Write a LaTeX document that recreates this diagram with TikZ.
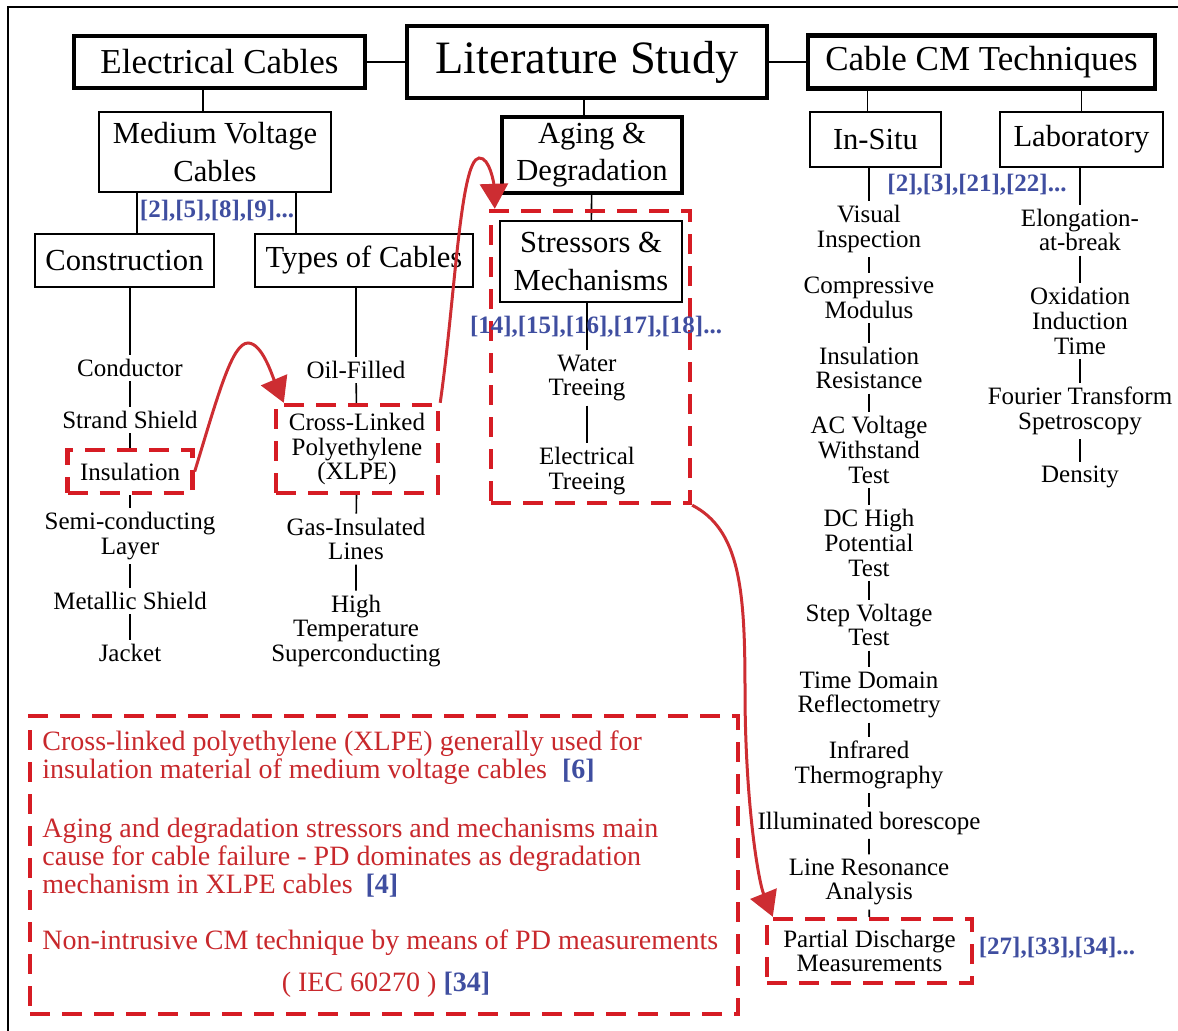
\documentclass[tikz,border=0pt]{standalone}
\usepackage{fontspec}
\setmainfont{Liberation Serif}
\usepackage{xcolor}
\definecolor{lsCite} {RGB}{ 63,  78, 160}
\definecolor{lsDash} {RGB}{214,  28,  36}
\definecolor{lsNote} {RGB}{200,  40,  44}
\definecolor{lsArrow}{RGB}{205,  45,  50}
\usepackage{tikz}
\usetikzlibrary{
  arrows.meta,
  positioning,
  calc,
}

\begin{document}
\begin{tikzpicture}[
  x=0.5pt, y=-0.5pt,
  hdbox/.style={draw, line width=2.4pt, inner sep=0pt, font=\fontsize{17.5}{21}\selectfont},
  subbox/.style={draw, line width=1pt, inner sep=0pt, align=center, font=\fontsize{15.3}{18.7}\selectfont},
  lsitem/.style={align=center, inner sep=2pt, font=\fontsize{12.5}{12.3}\selectfont},
  cref/.style={inner sep=1pt, text=lsCite, font=\bfseries\fontsize{12.5}{14}\selectfont},
  reddash/.style={draw=lsDash, line width=2.2pt, dash pattern=on 10pt off 6pt, inner sep=0pt},
  joint/.style={line width=0.8pt},
  redarrow/.style={draw=lsArrow, line width=1.5pt, -{Triangle[length=12.5pt, width=14pt]}},
  notetext/.style={anchor=west, align=left, inner sep=0pt, text=lsNote, font=\fontsize{14}{14}\selectfont},
]
  \useasboundingbox (0,0) rectangle (1178,1030);
  % Frame
  \draw[line width=1.2pt] (8,1040) -- (8,7) -- (1190,7);

  % Top row
  \node[hdbox, minimum width=145.5pt, minimum height=26pt] (ec) at (219.5,62) {Electrical Cables};
  \node[hdbox, minimum width=180pt, minimum height=36pt, font=\fontsize{23.2}{28}\selectfont] (ls) at (587,62) {Literature Study};
  \node[hdbox, minimum width=173.5pt, minimum height=26.5pt] (cct) at (981.5,62) {Cable CM Techniques};
  \draw[joint] (ec) -- (ls);
  \draw[joint] (ls) -- (cct);

  % Second row
  \node[subbox, minimum width=116pt, minimum height=40pt] (mvc) at (215,152) {Medium Voltage\\Cables};
  \node[subbox, minimum width=89.5pt, minimum height=26.5pt] (cons) at (124.5,260.5) {Construction};
  \node[subbox, minimum width=109pt, minimum height=26.5pt] (types) at (364,260.5) {Types of Cables};
  \node[subbox, line width=2.2pt, minimum width=90pt, minimum height=38pt] (aging) at (592,155) {Aging \&\\Degradation};
  \node[subbox, minimum width=91pt, minimum height=40.5pt] (stress) at (591,261.5) {Stressors \&\\Mechanisms};
  \node[subbox, minimum width=65.5pt, minimum height=27.5pt] (insitu) at (875.5,139.5) {In-Situ};
  \node[subbox, minimum width=81.5pt, minimum height=27.5pt] (lab) at (1081.5,139.5) {Laboratory};

  \draw[joint] ([xshift=-6pt]mvc.north) -- ([xshift=-6pt]mvc.north |- ec.south);
  \draw[joint] ([xshift=6.25pt]cons.north) -- ([xshift=6.25pt]cons.north |- mvc.south);
  \draw[joint] ([xshift=-34pt]types.north) -- ([xshift=-34pt]types.north |- mvc.south);
  \draw[joint] ([xshift=-4pt]aging.north) -- ([xshift=-4pt]aging.north |- ls.south);
  \draw[joint] (aging) -- (stress);
  \draw[joint] ([xshift=-4pt]insitu.north) -- ([xshift=-4pt]insitu.north |- cct.south);
  \draw[joint] (lab.north) -- (lab.north |- cct.south);

  % References
  \node[cref] (c1) at (217,211) {[2],[5],[8],[9]...};
  \node[cref] (c3) at (977,185) {[2],[3],[21],[22]...};
  \node[cref] (c4) at (1057,948) {[27],[33],[34]...};

  % Construction
  \node[lsitem] (cond) at (130,368) {Conductor};
  \node[lsitem] (strand) at (130,420) {Strand Shield};
  \node[lsitem, reddash, minimum width=62.5pt, minimum height=21.5pt] (insul) at (130,471.5) {Insulation};
  \node[lsitem] (semi) at (130,536) {Semi-conducting\\Layer};
  \node[lsitem] (metal) at (130,601) {Metallic Shield};
  \node[lsitem] (jacket) at (130,653) {Jacket};
  \draw[joint] (cond.north) -- (cond.north |- cons.south);
  \draw[joint] (cond) -- (strand) (strand) -- (insul) (insul) -- (semi);
  \draw[joint] (semi) -- (metal) (metal) -- (jacket);

  % Types of cables
  \node[lsitem] (oil) at (356,370) {Oil-Filled};
  \node[lsitem, reddash, minimum width=81pt, minimum height=44pt] (xlpe) at (357,449) {Cross-Linked\\Polyethylene\\(XLPE)};
  \node[lsitem] (gas) at (356,539) {Gas-Insulated\\Lines};
  \node[lsitem] (htsc) at (356,631) {High\\Temperature\\Superconducting};
  \draw[joint] (oil.north) -- (oil.north |- types.south);
  \draw[joint] (oil) -- (xlpe) (xlpe) -- (gas) (gas) -- (htsc);

  % Stressors
  \node[reddash, minimum width=99.5pt, minimum height=146pt] (stressbox) at (590.5,357) {};
  \node[lsitem] (water) at (587,378) {Water\\Treeing};
  \node[lsitem] (elec) at (587,471) {Electrical\\Treeing};
  \draw[joint] (water.north) -- (water.north |- stress.south);
  \draw[joint] (water) -- (elec);
  \node[cref] (c2) at (596,327) {[14],[15],[16],[17],[18]...};

  % In-Situ
  \node[lsitem] (vis) at (869,229) {Visual\\Inspection};
  \node[lsitem] (comp) at (869,298) {Compressive\\Modulus};
  \node[lsitem] (insres) at (869,368) {Insulation\\Resistance};
  \node[lsitem] (acv) at (869,450) {AC Voltage\\Withstand\\Test};
  \node[lsitem] (dchp) at (869,543) {DC High\\Potential\\Test};
  \node[lsitem] (stepv) at (869,625) {Step Voltage\\Test};
  \node[lsitem] (tdr) at (869,695) {Time Domain\\Reflectometry};
  \node[lsitem] (irt) at (869,765) {Infrared\\Thermography};
  \node[lsitem] (ibs) at (869,823) {Illuminated borescope};
  \node[lsitem] (lra) at (869,882) {Line Resonance\\Analysis};
  \node[lsitem, reddash, minimum width=102.5pt, minimum height=32pt] (pdm) at (869.5,951) {Partial Discharge\\Measurements};
  \draw[joint] (vis.north) -- (vis.north |- insitu.south);
  \draw[joint] (vis) -- (comp) (comp) -- (insres) (insres) -- (acv) (acv) -- (dchp);
  \draw[joint] (dchp) -- (stepv) (stepv) -- (tdr) (tdr) -- (irt) (irt) -- (ibs);
  \draw[joint] (ibs) -- (lra) (lra) -- (pdm);

  % Laboratory
  \node[lsitem] (elong) at (1080,230) {Elongation-\\at-break};
  \node[lsitem] (oit) at (1080,321) {Oxidation\\Induction\\Time};
  \node[lsitem] (ftir) at (1080,411) {Fourier Transform\\Spetroscopy};
  \node[lsitem] (dens) at (1080,477) {Density};
  \draw[joint] (elong.north) -- (elong.north |- lab.south);
  \draw[joint] (elong) -- (oit) (oit) -- (ftir) (ftir) -- (dens);

  % Summary
  \node[reddash, minimum width=354pt, minimum height=149pt] (notebox) at (384,865) {};
  \node[notetext] (n1) at (42,758) {Cross-linked polyethylene (XLPE) generally used for\\insulation material of medium voltage cables \hspace{4pt}{\bfseries\color{lsCite}[6]}};
  \node[notetext] (n2) at (42,858) {Aging and degradation stressors and mechanisms main\\cause for cable failure - PD dominates as degradation\\mechanism in XLPE cables \hspace{3pt}{\bfseries\color{lsCite}[4]}};
  \node[notetext] (n3) at (42,943) {Non-intrusive CM technique by means of PD measurements};
  \node[notetext, anchor=center] (n4) at (386,985) {( IEC 60270 ) {\bfseries\color{lsCite}[34]}};

  % Links
  \draw[redarrow] (insul.east) .. controls (218,395) and (232,343) .. (248,343)
    .. controls (262,343) and (272,375) .. ([xshift=5pt]xlpe.north west);
  \draw[redarrow] (xlpe.north east) .. controls (455,300) and (460,160) .. (479,158)
    .. controls (490,157) and (494,185) .. ([xshift=3pt]stressbox.north west);
  \draw[redarrow] (stressbox.south east) .. controls (740,530) and (745,590) .. (745,690)
    .. controls (745,800) and (758,880) .. ([xshift=4pt]pdm.north west);
\end{tikzpicture}
\end{document}
